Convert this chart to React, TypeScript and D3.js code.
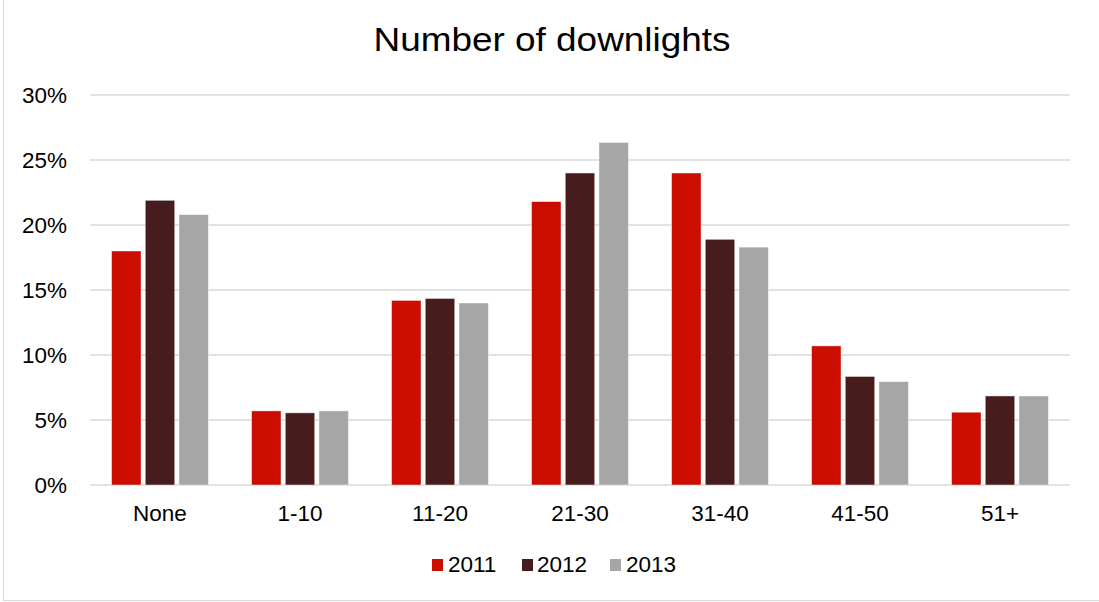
import React from "react";
import * as d3 from "d3";

const categories = ["None", "1-10", "11-20", "21-30", "31-40", "41-50", "51+"];
const seriesNames = ["2011", "2012", "2013"];
const values2011 = [18.0, 5.7, 14.2, 21.8, 24.0, 10.7, 5.6];
const values2012 = [21.9, 5.55, 14.35, 24.0, 18.9, 8.35, 6.85];
const values2013 = [20.8, 5.7, 14.0, 26.35, 18.3, 7.95, 6.85];
const yTicks = [0, 5, 10, 15, 20, 25, 30];
const colors = ["#CB0D00", "#461C1D", "#A6A6A6"];

const W = 1099;
const H = 602;
const FONT = "'Liberation Sans', Arial, sans-serif";

export default function App() {
  const seriesValues = [values2011, values2012, values2013];

  const x = d3
    .scaleBand<string>()
    .domain(categories)
    .range([90, 1070])
    .paddingInner(0.308)
    .paddingOuter(0.154);

  const xs = d3
    .scaleBand<string>()
    .domain(seriesNames)
    .range([0, x.bandwidth()])
    .paddingInner(0.125)
    .paddingOuter(0);

  const y = d3.scaleLinear().domain([0, 30]).range([485, 95]);

  const legendItems = [
    { sx: 432, tx: 448 },
    { sx: 522, tx: 537 },
    { sx: 610, tx: 626 },
  ];

  return (
    <svg
      width={W}
      height={H}
      style={{ position: "absolute", left: 0, top: 0, background: "#fff" }}
      fontFamily={FONT}
    >
      <rect x={0} y={0} width={W} height={H} fill="#fff" />
      {/* chart frame */}
      <rect
        x={3.5}
        y={-10}
        width={W + 10}
        height={610.5}
        fill="none"
        stroke="#d9d9d9"
        strokeWidth={1}
      />

      <text
        x={552}
        y={51}
        textAnchor="middle"
        fontSize={34}
        textLength={357}
        lengthAdjust="spacingAndGlyphs"
        fill="#000"
      >
        Number of downlights
      </text>

      {/* gridlines */}
      {yTicks.map((t) => (
        <line
          key={"g" + t}
          x1={90}
          x2={1070}
          y1={y(t)}
          y2={y(t)}
          stroke="#d9d9d9"
          strokeWidth={1.5}
        />
      ))}

      {/* y tick labels */}
      {yTicks.map((t) => (
        <text
          key={"t" + t}
          x={67}
          y={y(t)}
          dy="0.36em"
          textAnchor="end"
          fontSize={22.5}
          fill="#000"
        >
          {t + "%"}
        </text>
      ))}

      {/* bars */}
      {categories.map((c, ci) => (
        <g key={c} transform={`translate(${x(c)},0)`}>
          {seriesNames.map((s, si) => {
            const v = seriesValues[si][ci];
            return (
              <rect
                key={s}
                x={xs(s)}
                y={y(v)}
                width={xs.bandwidth()}
                height={y(0) - y(v)}
                fill={colors[si]}
                stroke="#ffffff"
                strokeOpacity={0.6}
                strokeWidth={0.75}
              />
            );
          })}
        </g>
      ))}

      {/* category labels */}
      {categories.map((c) => (
        <text
          key={"c" + c}
          x={(x(c) as number) + x.bandwidth() / 2}
          y={521}
          textAnchor="middle"
          fontSize={22.5}
          fill="#000"
        >
          {c}
        </text>
      ))}

      {/* legend */}
      {seriesNames.map((s, si) => (
        <g key={"l" + s}>
          <rect
            x={legendItems[si].sx}
            y={559}
            width={11}
            height={12}
            fill={colors[si]}
          />
          <text x={legendItems[si].tx} y={572} fontSize={22.5} fill="#000">
            {s}
          </text>
        </g>
      ))}
    </svg>
  );
}
